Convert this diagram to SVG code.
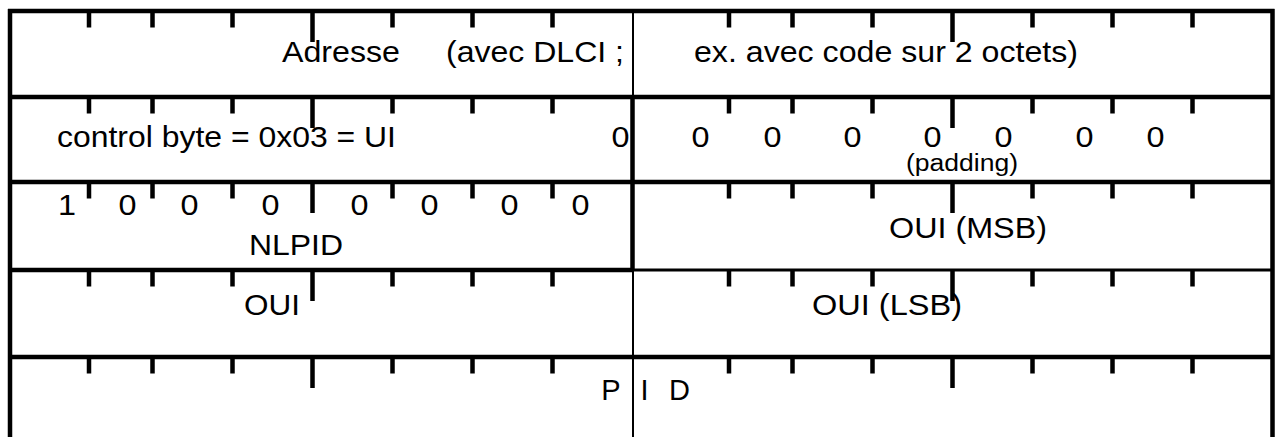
<svg xmlns="http://www.w3.org/2000/svg" width="1279" height="437" viewBox="0 0 1279 437">
<style>
  .ln{stroke:#000;stroke-width:4.5;fill:none}
  .thin{stroke:#000;stroke-width:2;fill:none}
  .mid{stroke:#000;stroke-width:3;fill:none}
  .tick{stroke:#000;stroke-width:4.5;fill:none}
  text{font-family:"Liberation Sans",Arial,Helvetica,sans-serif;font-size:29px;fill:#000}
  .d{text-anchor:middle}
  .sm{font-size:23px}
</style>
<defs>
  <g id="tickrow">
    <path class="tick" d="M89 0v16.5M152.5 0v16.5M232.5 0v16.5M392.5 0v16.5M472.5 0v16.5M552.5 0v16.5M729 0v16.5M792.5 0v16.5M872.5 0v16.5M1032.5 0v16.5M1112.5 0v16.5M1192.5 0v16.5"/>
    <path class="tick" d="M312.5 0v31M952.5 0v31"/>
  </g>
</defs>
<rect width="1279" height="437" fill="#fff"/>
<g id="ticks">
  <use href="#tickrow" y="11"/>
  <use href="#tickrow" y="97"/>
  <use href="#tickrow" y="182"/>
  <use href="#tickrow" y="270"/>
  <use href="#tickrow" y="357"/>
</g>
<g id="grid">
  <path class="ln" d="M8 11H1274.5M10 9V437M1272.5 9V437"/>
  <path class="ln" d="M10 97H1272.5M10 182H1272.5M10 357H1272.5M10 270H633"/>
  <path class="mid" d="M633 270H1272.5"/>
  <path class="thin" d="M633 11V437"/>
  <path class="ln" d="M632.5 97V270"/>
</g>
<g id="field-address">
  <text x="282" y="62" textLength="118" lengthAdjust="spacingAndGlyphs">Adresse</text>
  <text x="446" y="62" textLength="178" lengthAdjust="spacingAndGlyphs">(avec DLCI ;</text>
  <text x="694" y="62" textLength="384" lengthAdjust="spacingAndGlyphs">ex. avec code sur 2 octets)</text>
</g>
<g id="field-control">
  <text x="57" y="147" textLength="339" lengthAdjust="spacingAndGlyphs">control byte = 0x03 = UI</text>
  <text class="d" x="620.5" y="147" textLength="18" lengthAdjust="spacingAndGlyphs">0</text>
</g>
<g id="field-padding">
  <text class="d" x="700.5" y="147" textLength="18" lengthAdjust="spacingAndGlyphs">0</text>
  <text class="d" x="772.5" y="147" textLength="18" lengthAdjust="spacingAndGlyphs">0</text>
  <text class="d" x="852.5" y="147" textLength="18" lengthAdjust="spacingAndGlyphs">0</text>
  <text class="d" x="932.5" y="147" textLength="18" lengthAdjust="spacingAndGlyphs">0</text>
  <text class="d" x="1003.5" y="147" textLength="18" lengthAdjust="spacingAndGlyphs">0</text>
  <text class="d" x="1084.5" y="147" textLength="18" lengthAdjust="spacingAndGlyphs">0</text>
  <text class="d" x="1155.5" y="147" textLength="18" lengthAdjust="spacingAndGlyphs">0</text>
  <text class="sm" x="906" y="171" textLength="112" lengthAdjust="spacingAndGlyphs">(padding)</text>
</g>
<g id="field-nlpid">
  <text class="d" x="67" y="215" textLength="18" lengthAdjust="spacingAndGlyphs">1</text>
  <text class="d" x="127.5" y="215" textLength="18" lengthAdjust="spacingAndGlyphs">0</text>
  <text class="d" x="189.5" y="215" textLength="18" lengthAdjust="spacingAndGlyphs">0</text>
  <text class="d" x="270.5" y="215" textLength="18" lengthAdjust="spacingAndGlyphs">0</text>
  <text class="d" x="359.5" y="215" textLength="18" lengthAdjust="spacingAndGlyphs">0</text>
  <text class="d" x="429.5" y="215" textLength="18" lengthAdjust="spacingAndGlyphs">0</text>
  <text class="d" x="509.5" y="215" textLength="18" lengthAdjust="spacingAndGlyphs">0</text>
  <text class="d" x="580.5" y="215" textLength="18" lengthAdjust="spacingAndGlyphs">0</text>
  <text x="249" y="255" textLength="94" lengthAdjust="spacingAndGlyphs">NLPID</text>
</g>
<g id="field-oui-msb">
  <text x="889" y="238" textLength="158" lengthAdjust="spacingAndGlyphs">OUI (MSB)</text>
</g>
<g id="field-oui">
  <text x="244" y="315" textLength="56" lengthAdjust="spacingAndGlyphs">OUI</text>
</g>
<g id="field-oui-lsb">
  <text x="812" y="315" textLength="150" lengthAdjust="spacingAndGlyphs">OUI (LSB)</text>
</g>
<g id="field-pid">
  <text class="d" x="611" y="400">P</text>
  <text class="d" x="644.5" y="400">I</text>
  <text class="d" x="679.6" y="400">D</text>
</g>
</svg>
